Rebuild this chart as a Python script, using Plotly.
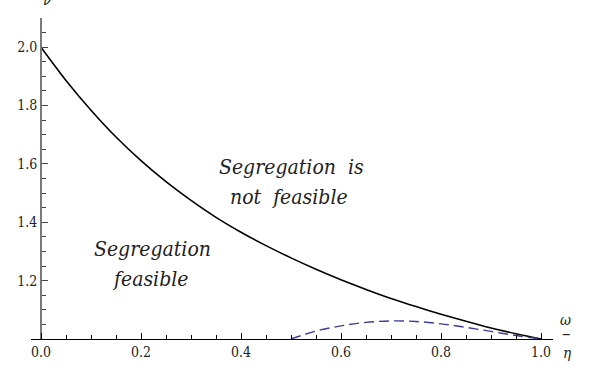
import plotly.graph_objects as go

# Boundary curve (solid black): nu as a function of omega/eta
boundary_x = [0.0, 0.05, 0.1, 0.15, 0.2, 0.25, 0.3, 0.35, 0.4, 0.45, 0.5,
              0.55, 0.6, 0.65, 0.7, 0.75, 0.8, 0.85, 0.9, 0.95, 1.0]
boundary_y = [2.0, 1.886, 1.784, 1.692, 1.611, 1.539, 1.475, 1.417, 1.366, 1.320, 1.278,
              1.239, 1.203, 1.170, 1.139, 1.111, 1.085, 1.061, 1.038, 1.018, 1.0]

# Dashed curve (blue)
dashed_x = [0.5, 0.55, 0.6, 0.65, 0.7, 0.75, 0.8, 0.85, 0.9, 0.95, 1.0]
dashed_y = [1.0, 1.027, 1.045, 1.057, 1.062, 1.060, 1.052, 1.040, 1.026, 1.012, 1.0]

x_ticks = [0.0, 0.2, 0.4, 0.6, 0.8, 1.0]
y_ticks = [1.2, 1.4, 1.6, 1.8, 2.0]

# Region labels (one entry per text line)
region_text = ["Segregation \u00a0is", "not \u00a0feasible", "Segregation", "feasible"]
region_x = [0.50, 0.495, 0.222, 0.218]
region_y = [1.590, 1.488, 1.308, 1.205]

SERIF = "DejaVu Serif Condensed, DejaVu Serif, serif"

fig = go.Figure()
fig.add_trace(go.Scatter(x=boundary_x, y=boundary_y, mode="lines",
                         line=dict(color="black", width=1.6, shape="spline", smoothing=0.8),
                         showlegend=False, hoverinfo="skip"))
fig.add_trace(go.Scatter(x=dashed_x, y=dashed_y, mode="lines",
                         line=dict(color="#3d3d99", width=1.4, shape="spline", dash="10px,5px"),
                         showlegend=False, hoverinfo="skip"))

L, R, T, B = 31, 47, 18, 31
plot_w = 600 - L - R
plot_h = 372 - T - B
xmin, xmax = -0.02, 1.024
ypos = (0 - xmin) / (xmax - xmin)

tick_font = dict(family=SERIF, size=14, color="#222222")
fig.update_layout(
    width=600, height=372,
    margin=dict(l=L, r=R, t=T, b=B, pad=0),
    paper_bgcolor="white", plot_bgcolor="white",
    font=dict(family=SERIF, size=14, color="#222222"),
    xaxis=dict(range=[xmin, xmax], tickvals=x_ticks, ticktext=[f"{v:.1f}" for v in x_ticks],
               showgrid=False, zeroline=False, showline=True, linecolor="black", linewidth=1,
               ticks="inside", ticklen=6, tickwidth=1, tickcolor="black",
               minor=dict(tickmode="linear", tick0=0, dtick=0.05, ticks="inside", ticklen=4,
                          tickwidth=1, tickcolor="black", showgrid=False),
               tickfont=tick_font),
    yaxis=dict(range=[1.0, 2.1], tickvals=y_ticks, ticktext=[f"{v:.1f}" for v in y_ticks],
               anchor="free", position=ypos,
               showgrid=False, zeroline=False, showline=True, linecolor="#7a7a7a", linewidth=2,
               ticks="inside", ticklen=6, tickwidth=1, tickcolor="#444444",
               minor=dict(tickmode="linear", tick0=0, dtick=0.05, ticks="inside", ticklen=4,
                          tickwidth=1, tickcolor="#444444", showgrid=False),
               tickfont=tick_font),
)

ann_font = dict(family=SERIF, size=21, color="#222222")
for t, x, y in zip(region_text, region_x, region_y):
    fig.add_annotation(x=x, y=y, xref="x", yref="y", showarrow=False,
                       text=f"<i>{t}</i>", font=ann_font, yanchor="middle")

lab_font = dict(family=SERIF, size=15, color="#222222")
def py(pix):
    return (372 - B - pix) / plot_h
def px(pix):
    return (pix - L) / plot_w

fig.add_annotation(x=ypos, y=py(0), xref="paper", yref="paper", showarrow=False,
                   text="<i>ν</i>", font=lab_font, yanchor="middle")
fig.add_annotation(x=px(573), y=py(322), xref="paper", yref="paper", showarrow=False,
                   text="<i>ω</i>", font=lab_font, yanchor="middle")
fig.add_annotation(x=px(573), y=py(335), xref="paper", yref="paper", showarrow=False,
                   text="–", font=dict(family=SERIF, size=19, color="#222222"), yanchor="middle")
fig.add_annotation(x=px(573), y=py(355), xref="paper", yref="paper", showarrow=False,
                   text="<i>η</i>", font=lab_font, yanchor="middle")

fig.write_html("out.html")
